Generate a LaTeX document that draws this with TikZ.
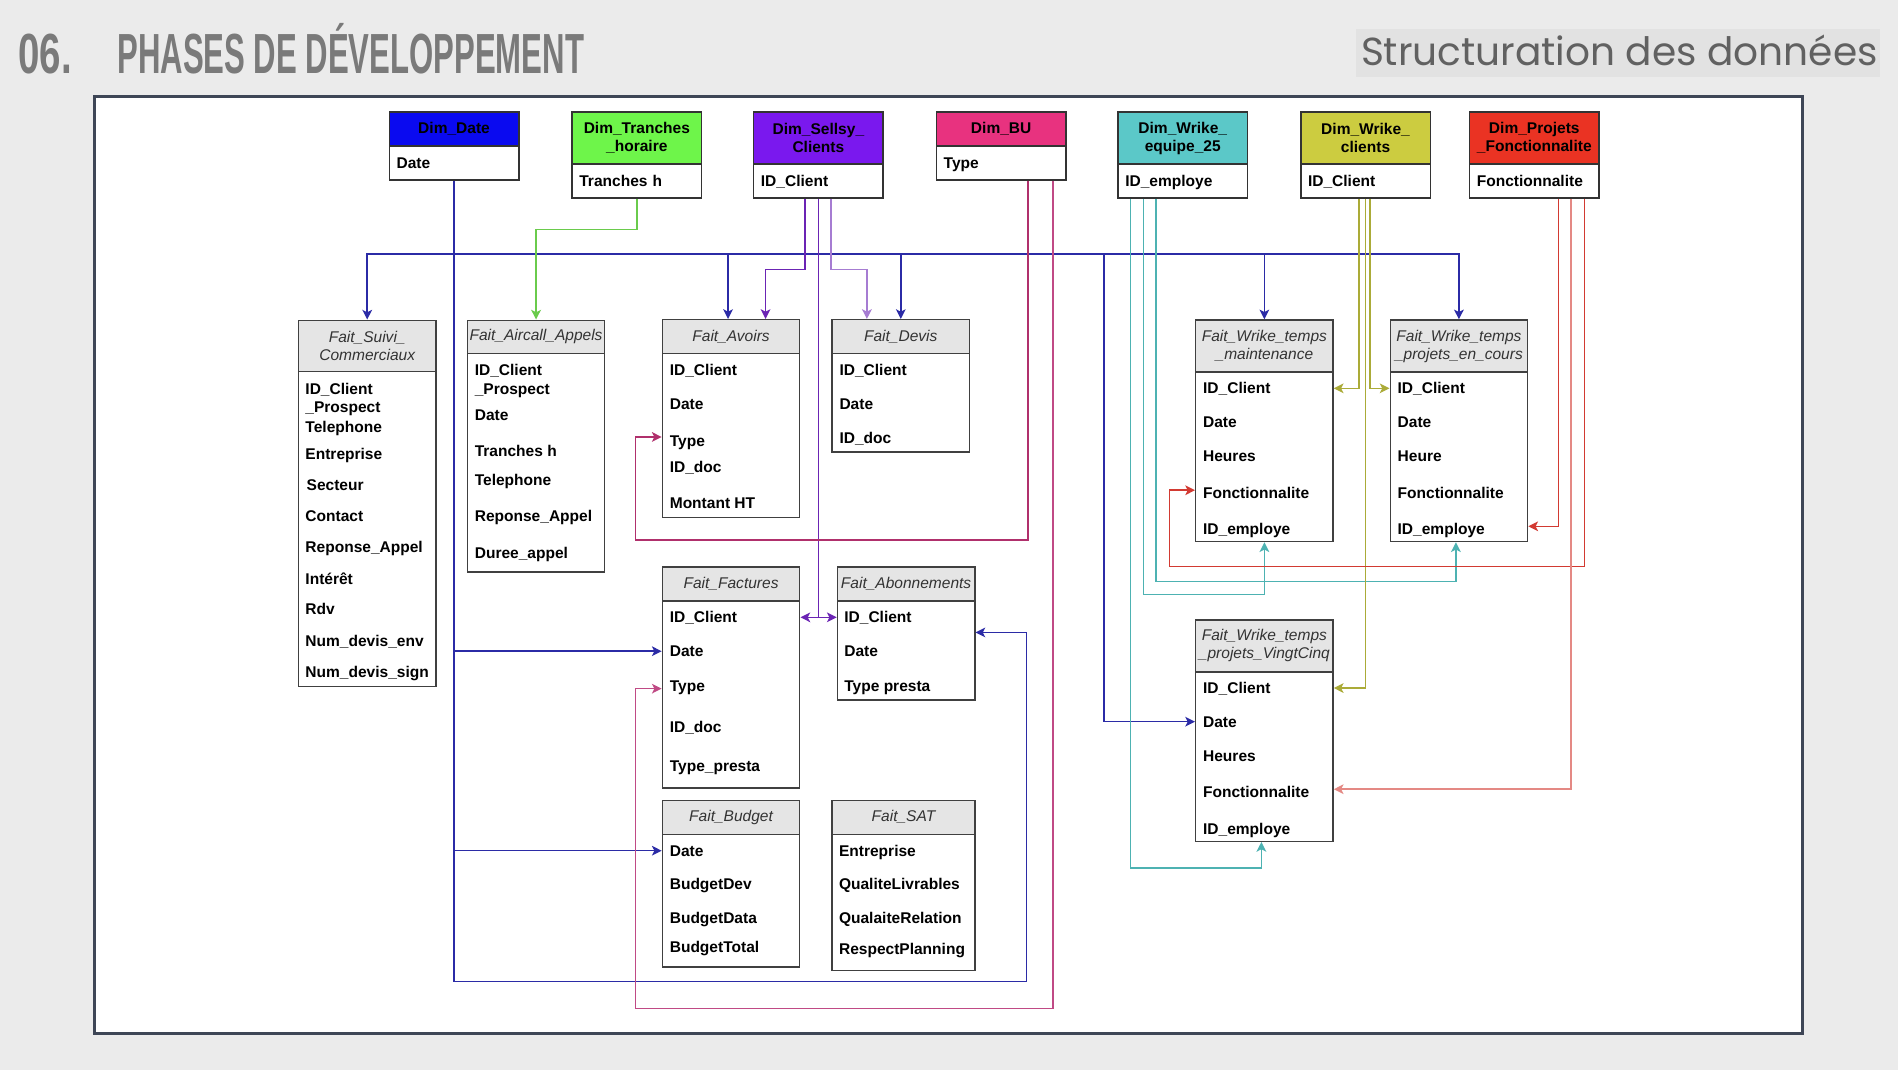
\documentclass[tikz,border=0pt]{standalone}
\usepackage{fontspec}
\setmainfont{Liberation Sans}
\newfontfamily\poppins{Poppins}
\usepackage{tikz}
\usetikzlibrary{arrows.meta}
\definecolor{marble}{HTML}{EBEBEB}
\definecolor{framecol}{HTML}{3E4656}
\definecolor{titlegray}{HTML}{7A7A7A}
\definecolor{subgray}{HTML}{616161}
\definecolor{bandgray}{HTML}{E2E2E2}
\definecolor{dimdate}{HTML}{0A0AF0}
\definecolor{dimtranche}{HTML}{6EF54A}
\definecolor{dimsellsy}{HTML}{7A18EE}
\definecolor{dimbu}{HTML}{E8327F}
\definecolor{dimequipe}{HTML}{5BC8C8}
\definecolor{dimwclient}{HTML}{CCCC40}
\definecolor{dimprojet}{HTML}{EA3323}
\definecolor{myblue}{HTML}{2B2BA6}
\definecolor{mypurple}{HTML}{6B24B4}
\definecolor{mygreen}{HTML}{6ACB4C}
\definecolor{mypink}{HTML}{B0306C}
\definecolor{mypinklight}{HTML}{C04A85}
\definecolor{myteal}{HTML}{4DB2B2}
\definecolor{myolive}{HTML}{ABAB38}
\definecolor{myred}{HTML}{D23A32}
\newcommand{\tabfont}{\fontsize{7.3}{8.4}\selectfont}

\begin{document}
\begin{tikzpicture}[>={Stealth[length=1.6mm,width=1.6mm,inset=0.4mm]}, x=0.02cm, y=-0.02cm]
	\tikzstyle{dimhead} = [anchor=north west, draw=black!80, line width=0.7pt, minimum width=2.14cm, align=center, font=\tabfont\bfseries, inner sep=0]
	\tikzstyle{dimbody} = [anchor=north west, draw=black!80, line width=0.7pt, fill=white, minimum width=2.14cm, minimum height=0.56cm, text width=1.90cm, inner xsep=0.12cm, inner ysep=0, align=left, font=\tabfont\bfseries, text height=5.2pt, text depth=0pt]
	\tikzstyle{facthead} = [anchor=north west, draw=black!75, line width=0.7pt, fill=black!10, minimum width=2.27cm, minimum height=0.56cm, align=center, font=\tabfont\itshape, text=black!80, inner sep=0]
	\tikzstyle{factbody} = [anchor=north west, draw=black!75, line width=0.7pt, fill=white, minimum width=2.27cm, inner sep=0]
	\tikzstyle{field} = [anchor=west, inner sep=0, font=\tabfont\bfseries, text height=5.2pt, text depth=0pt]
	\tikzstyle{bluelink} = [->, myblue, line width=0.7pt]
	\tikzstyle{purplelink} = [->, mypurple, line width=0.7pt]
	\tikzstyle{greenlink} = [->, mygreen, line width=0.7pt]
	\tikzstyle{pinklink} = [->, mypink, line width=0.7pt]
	\tikzstyle{teallink} = [->, myteal, line width=0.7pt]
	\tikzstyle{olivelink} = [->, myolive, line width=0.7pt]
	\tikzstyle{redlink} = [->, myred, line width=0.7pt]

	% fond et cadre
	\fill [marble] (0,0) rectangle (1568,884);
	\useasboundingbox (0,0) rectangle (1568,884);
	\filldraw [fill=white, draw=framecol, line width=1.3pt] (78,80) rectangle (1489,854);

	% titres
	\node [anchor=base west, inner sep=0, text=titlegray] (num) at (14.8,60.6) {\scalebox{0.68}[1]{\fontsize{26.6}{26.6}\selectfont\bfseries 06.}};
	\node [anchor=base west, inner sep=0, text=titlegray] (title) at (96.6,60.6) {\scalebox{0.55}[1]{\fontsize{26.6}{26.6}\selectfont\bfseries PHASES DE DÉVELOPPEMENT}};
	\node [anchor=north west, fill=bandgray, minimum width=8.66cm, minimum height=0.78cm, inner sep=0] (band) at (1120,24) {};
	\node [anchor=base west, inner sep=0, text=subgray] (sub) at (1124,54.3) {\resizebox{8.54cm}{!}{\poppins Structuration des données}};

	% dimensions
	\node [dimhead, fill=dimdate, minimum height=0.56cm] (dDate) at (321,92) {Dim\_Date};
	\node [dimbody] (dDateB) at (321,120) {Date};
	\node [dimhead, fill=dimtranche, minimum height=0.86cm] (dTranche) at (472,92) {Dim\_Tranches\\\_horaire};
	\node [dimbody] (dTrancheB) at (472,135) {Tranches h};
	\node [dimhead, fill=dimsellsy, minimum height=0.86cm] (dSellsy) at (622,92) {Dim\_Sellsy\_\\Clients};
	\node [dimbody] (dSellsyB) at (622,135) {ID\_Client};
	\node [dimhead, fill=dimbu, minimum height=0.56cm] (dBU) at (773,92) {Dim\_BU};
	\node [dimbody] (dBUB) at (773,120) {Type};
	\node [dimhead, fill=dimequipe, minimum height=0.86cm] (dEquipe) at (923,92) {Dim\_Wrike\_\\equipe\_25};
	\node [dimbody] (dEquipeB) at (923,135) {ID\_employe};
	\node [dimhead, fill=dimwclient, minimum height=0.86cm] (dWclient) at (1074,92) {Dim\_Wrike\_\\clients};
	\node [dimbody] (dWclientB) at (1074,135) {ID\_Client};
	\node [dimhead, fill=dimprojet, minimum height=0.86cm] (dProjet) at (1213.4,92) {Dim\_Projets\\\_Fonctionnalite};
	\node [dimbody] (dProjetB) at (1213.4,135) {Fonctionnalite};

	% faits
	\node [facthead, minimum height=0.85cm] (fSuivi) at (246,264) {Fait\_Suivi\_\\Commerciaux};
	\node [factbody, minimum height=5.20cm] (fSuiviB) at (246,306.5) {};
	\node [field] (su1) at (252,321) {ID\_Client};
	\node [field] (su2) at (252,336) {\_Prospect};
	\node [field] (su3) at (252,353) {Telephone};
	\node [field] (su4) at (252,375) {Entreprise};
	\node [field] (su5) at (253,400.4) {Secteur};
	\node [field] (su6) at (252,426) {Contact};
	\node [field] (su7) at (252,452) {Reponse\_Appel};
	\node [field] (su8) at (252,478) {Intérêt};
	\node [field] (su9) at (252,503.4) {Rdv};
	\node [field] (su10) at (252,529.5) {Num\_devis\_env};
	\node [field] (su11) at (252,555.4) {Num\_devis\_sign};

	\node [facthead, minimum height=0.55cm] (fAircall) at (385.5,264) {Fait\_Aircall\_Appels};
	\node [factbody, minimum height=3.61cm] (fAircallB) at (385.5,291.5) {};
	\node [field] (ai1) at (391.9,306) {ID\_Client};
	\node [field] (ai2) at (391.9,321) {\_Prospect};
	\node [field] (ai3) at (391.9,342.6) {Date};
	\node [field] (ai4) at (391.9,372.6) {Tranches h};
	\node [field] (ai5) at (391.9,396.3) {Telephone};
	\node [field] (ai6) at (391.9,426.3) {Reponse\_Appel};
	\node [field] (ai7) at (391.9,456.6) {Duree\_appel};

	\node [facthead] (fAvoirs) at (546.6,263.5) {Fait\_Avoirs};
	\node [factbody, minimum height=2.71cm] (fAvoirsB) at (546.6,291.5) {};
	\node [field] (av1) at (553,306) {ID\_Client};
	\node [field] (av2) at (553,333.7) {Date};
	\node [field] (av3) at (553,364) {Type};
	\node [field] (av4) at (553,385.5) {ID\_doc};
	\node [field] (av5) at (553,415.3) {Montant HT};

	\node [facthead] (fDevis) at (686.8,263.5) {Fait\_Devis};
	\node [factbody, minimum height=1.63cm] (fDevisB) at (686.8,291.5) {};
	\node [field] (de1) at (693.2,306) {ID\_Client};
	\node [field] (de2) at (693.2,333.7) {Date};
	\node [field] (de3) at (693.2,361.8) {ID\_doc};

	\node [facthead] (fFactures) at (546.6,468) {Fait\_Factures};
	\node [factbody, minimum height=3.09cm] (fFacturesB) at (546.6,496) {};
	\node [field] (fa1) at (553,510) {ID\_Client};
	\node [field] (fa2) at (553,538) {Date};
	\node [field] (fa3) at (553,566.4) {Type};
	\node [field] (fa4) at (553,600.6) {ID\_doc};
	\node [field] (fa5) at (553,632.8) {Type\_presta};

	\node [facthead] (fAbo) at (691.2,468) {Fait\_Abonnements};
	\node [factbody, minimum height=1.63cm] (fAboB) at (691.2,496) {};
	\node [field] (ab1) at (697.2,510) {ID\_Client};
	\node [field] (ab2) at (697.2,538) {Date};
	\node [field] (ab3) at (697.2,566.4) {Type presta};

	\node [facthead] (fBudget) at (546.6,660.6) {Fait\_Budget};
	\node [factbody, minimum height=2.19cm] (fBudgetB) at (546.6,688.6) {};
	\node [field] (bu1) at (553,702.8) {Date};
	\node [field] (bu2) at (553,730.5) {BudgetDev};
	\node [field] (bu3) at (553,758.6) {BudgetData};
	\node [field] (bu4) at (553,782) {BudgetTotal};

	\node [facthead, minimum width=2.36cm] (fSAT) at (686.8,660.6) {Fait\_SAT};
	\node [factbody, minimum width=2.36cm, minimum height=2.25cm] (fSATB) at (686.8,688.6) {};
	\node [field] (sa1) at (692.8,702.8) {Entreprise};
	\node [field] (sa2) at (692.8,730.5) {QualiteLivrables};
	\node [field] (sa3) at (692.8,758.6) {QualaiteRelation};
	\node [field] (sa4) at (692.8,784.3) {RespectPlanning};

	\node [facthead, minimum height=0.86cm] (fMaint) at (987.2,263.8) {Fait\_Wrike\_temps\\\_maintenance};
	\node [factbody, minimum height=2.80cm] (fMaintB) at (987.2,306.8) {};
	\node [field] (ma1) at (993.6,320.8) {ID\_Client};
	\node [field] (ma2) at (993.6,348.9) {Date};
	\node [field] (ma3) at (993.6,376.7) {Heures};
	\node [field] (ma4) at (993.6,407) {Fonctionnalite};
	\node [field] (ma5) at (993.6,437.3) {ID\_employe};

	\node [facthead, minimum height=0.86cm] (fCours) at (1147.9,263.8) {Fait\_Wrike\_temps\\\_projets\_en\_cours};
	\node [factbody, minimum height=2.80cm] (fCoursB) at (1147.9,306.8) {};
	\node [field] (co1) at (1154.3,320.8) {ID\_Client};
	\node [field] (co2) at (1154.3,348.9) {Date};
	\node [field] (co3) at (1154.3,376.7) {Heure};
	\node [field] (co4) at (1154.3,407) {Fonctionnalite};
	\node [field] (co5) at (1154.3,437.3) {ID\_employe};

	\node [facthead, minimum height=0.86cm] (fVingt) at (987.2,511.4) {Fait\_Wrike\_temps\\\_projets\_VingtCinq};
	\node [factbody, minimum height=2.80cm] (fVingtB) at (987.2,554.4) {};
	\node [field] (vi1) at (993.6,568.4) {ID\_Client};
	\node [field] (vi2) at (993.6,596.2) {Date};
	\node [field] (vi3) at (993.6,624.3) {Heures};
	\node [field] (vi4) at (993.6,654) {Fonctionnalite};
	\node [field] (vi5) at (993.6,684.6) {ID\_employe};

	% Dim_Date
	\coordinate (bus) at (dDateB.south |- 0,210);
	\draw [bluelink] (dDateB.south) |- (848,811) |- ([yshift=-0.53cm]fAboB.north east);
	\draw [bluelink] (dDateB.south |- fa2) -- (fFacturesB.west |- fa2);
	\draw [bluelink] (dDateB.south |- bu1) -- (fBudgetB.west |- bu1);
	\draw [bluelink] (bus) -| (fSuivi.north);
	\draw [bluelink] (bus) -| ([xshift=-0.05cm]fAvoirs.north);
	\draw [bluelink] (bus) -| (fDevis.north);
	\draw [bluelink] (bus) -| (fMaint.north);
	\draw [bluelink] (bus) -| (fCours.north);
	\draw [bluelink] (bus) -| (912,400) |- (fVingtB.west |- vi2);

	% Dim_Tranches_horaire
	\draw [greenlink] (dTrancheB.south) -- ++(0,25.5) -| (fAircall.north);

	% Dim_Sellsy_Clients
	\draw [purplelink] ([xshift=-0.22cm]dSellsyB.south) -- ++(0,58.5) -| ([xshift=0.57cm]fAvoirs.north);
	\draw [purplelink, draw=mypurple!60] ([xshift=0.21cm]dSellsyB.south) -- ++(0,58.5) -| ([xshift=-0.56cm]fDevis.north);
	\draw [purplelink, -] (dSellsyB.south) -- (dSellsyB.south |- fa1);
	\draw [purplelink, <->] (fFacturesB.east |- fa1) -- (fAboB.west |- fa1);

	% Dim_BU
	\draw [pinklink] ([xshift=0.44cm]dBUB.south) |- (525,446) |- ([yshift=0.06cm]fAvoirsB.west |- av3);
	\draw [pinklink, draw=mypinklight] ([xshift=0.86cm]dBUB.south) |- (525,833) |- ([yshift=-0.05cm]fFacturesB.west |- fa3);

	% Dim_Wrike_equipe_25
	\draw [teallink] ([xshift=-0.44cm]dEquipeB.south) -- ++(0,316) -| ([xshift=-0.05cm]fCoursB.south);
	\draw [teallink] ([xshift=-0.65cm]dEquipeB.south) -- ++(0,327) -| (fMaintB.south);
	\draw [teallink] ([xshift=-0.86cm]dEquipeB.south) -- ++(0,553) -| ([xshift=-0.05cm]fVingtB.south);

	% Dim_Wrike_clients
	\draw [olivelink] ([xshift=-0.11cm]dWclientB.south) |- (fMaintB.east |- ma1);
	\draw [olivelink] ([xshift=0.07cm]dWclientB.south) |- (fCoursB.west |- co1);
	\draw [olivelink] (dWclientB.south) |- (fVingtB.east |- vi1);

	% Dim_Projets_Fonctionnalite
	\draw [redlink] ([xshift=0.40cm]dProjetB.south) |- ([yshift=0.05cm]fCoursB.east |- co5);
	\draw [redlink] ([xshift=0.83cm]dProjetB.south) |- (966,468) |- ([yshift=0.04cm]fMaintB.west |- ma4);
	\draw [redlink, draw=myred!60] ([xshift=0.61cm]dProjetB.south) |- ([yshift=0.04cm]fVingtB.east |- vi4);
\end{tikzpicture}
\end{document}
